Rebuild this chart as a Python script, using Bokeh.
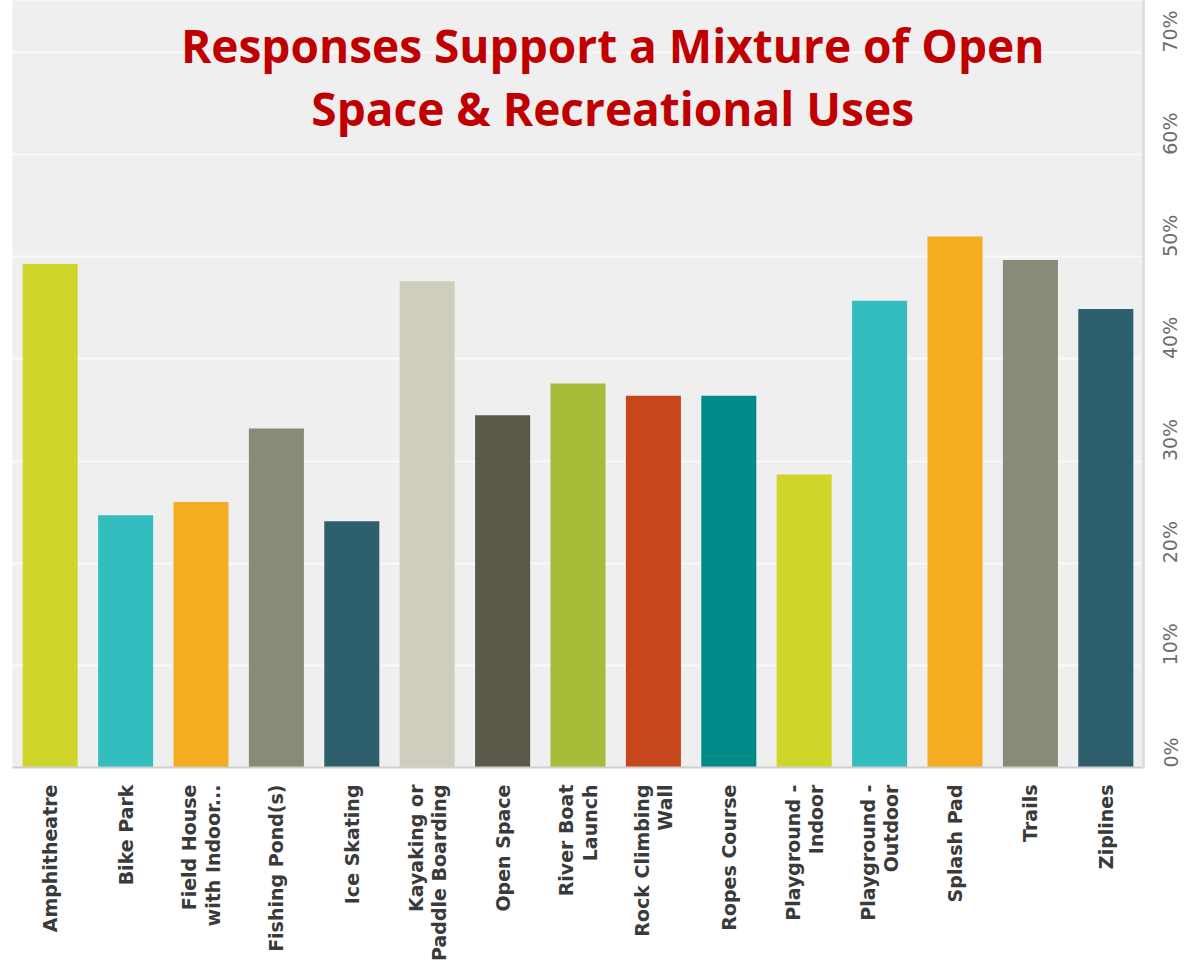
import math
from bokeh.plotting import figure
from bokeh.models import ColumnDataSource, FixedTicker, NumeralTickFormatter, Label, Range1d, LinearAxis
from bokeh.embed import file_html
from bokeh.resources import INLINE

categories = ["Amphitheatre", "Bike Park", "Field House\nwith Indoor...", "Fishing Pond(s)",
              "Ice Skating", "Kayaking or\nPaddle Boarding", "Open Space", "River Boat\nLaunch",
              "Rock Climbing\nWall", "Ropes Course", "Playground -\nIndoor", "Playground -\nOutdoor",
              "Splash Pad", "Trails", "Ziplines"]
shares = [0.493, 0.247, 0.260, 0.332, 0.241, 0.476, 0.345, 0.376, 0.364, 0.364,
          0.287, 0.457, 0.520, 0.497, 0.449]
bar_colors = ["#cfd629", "#34bdbf", "#f5ac20", "#8a8a78", "#2e5f6d", "#cfcebe", "#5c594a",
              "#a8bb38", "#c8461b", "#008a89", "#cfd629", "#34bdbf", "#f5ac20", "#8a8a78", "#2e5f6d"]
tick_values = [0.0, 0.1, 0.2, 0.3, 0.4, 0.5, 0.6, 0.7]
title_lines = ["Responses Support a Mixture of Open", "Space & Recreational Uses"]

src = ColumnDataSource(dict(cat=categories, val=shares, color=bar_colors))

p = figure(x_range=categories, y_range=Range1d(0, 0.751), width=1195, height=972,
           output_backend="svg", toolbar_location=None, y_axis_location=None,
           min_border_left=12, min_border_top=0, min_border_right=47, min_border_bottom=205)
p.outline_line_color = None
p.background_fill_color = "#efefef"
p.border_fill_color = "white"

p.vbar(x="cat", top="val", width=0.73, color="color", line_color=None, source=src)

yax = LinearAxis(ticker=FixedTicker(ticks=tick_values), formatter=NumeralTickFormatter(format="0%"))
yax.major_label_orientation = math.pi / 2
yax.major_label_text_font = "DejaVu Sans"
yax.major_label_text_font_size = "19px"
yax.major_label_text_color = "#6b6b6b"
yax.major_label_standoff = 21
yax.axis_line_color = "#dedede"
yax.axis_line_width = 3
yax.major_tick_line_color = None
yax.minor_tick_line_color = None
p.add_layout(yax, "right")

xax = p.xaxis[0]
xax.major_label_orientation = math.pi / 2
xax.major_label_text_font = "DejaVu Sans"
xax.major_label_text_font_style = "bold"
xax.major_label_text_font_size = "19px"
xax.major_label_text_line_height = 1.05
xax.major_label_text_color = "#3a3a3a"
xax.major_label_standoff = 11
xax.axis_line_color = "#cfcfcf"
xax.axis_line_width = 2
xax.major_tick_line_color = None
xax.minor_tick_line_color = None

p.xgrid.grid_line_color = None
p.ygrid.ticker = FixedTicker(ticks=tick_values)
p.ygrid.grid_line_color = "#fafafa"
p.ygrid.grid_line_width = 2

for txt, yv in zip(title_lines, [0.707, 0.646]):
    p.add_layout(Label(x=7.96, y=yv, text=txt, text_align="center", text_baseline="alphabetic",
                       text_font="Open Sans", text_font_style="bold", text_font_size="46px",
                       text_color="#c00000"))

open("out.html", "w").write(file_html(p, INLINE))
